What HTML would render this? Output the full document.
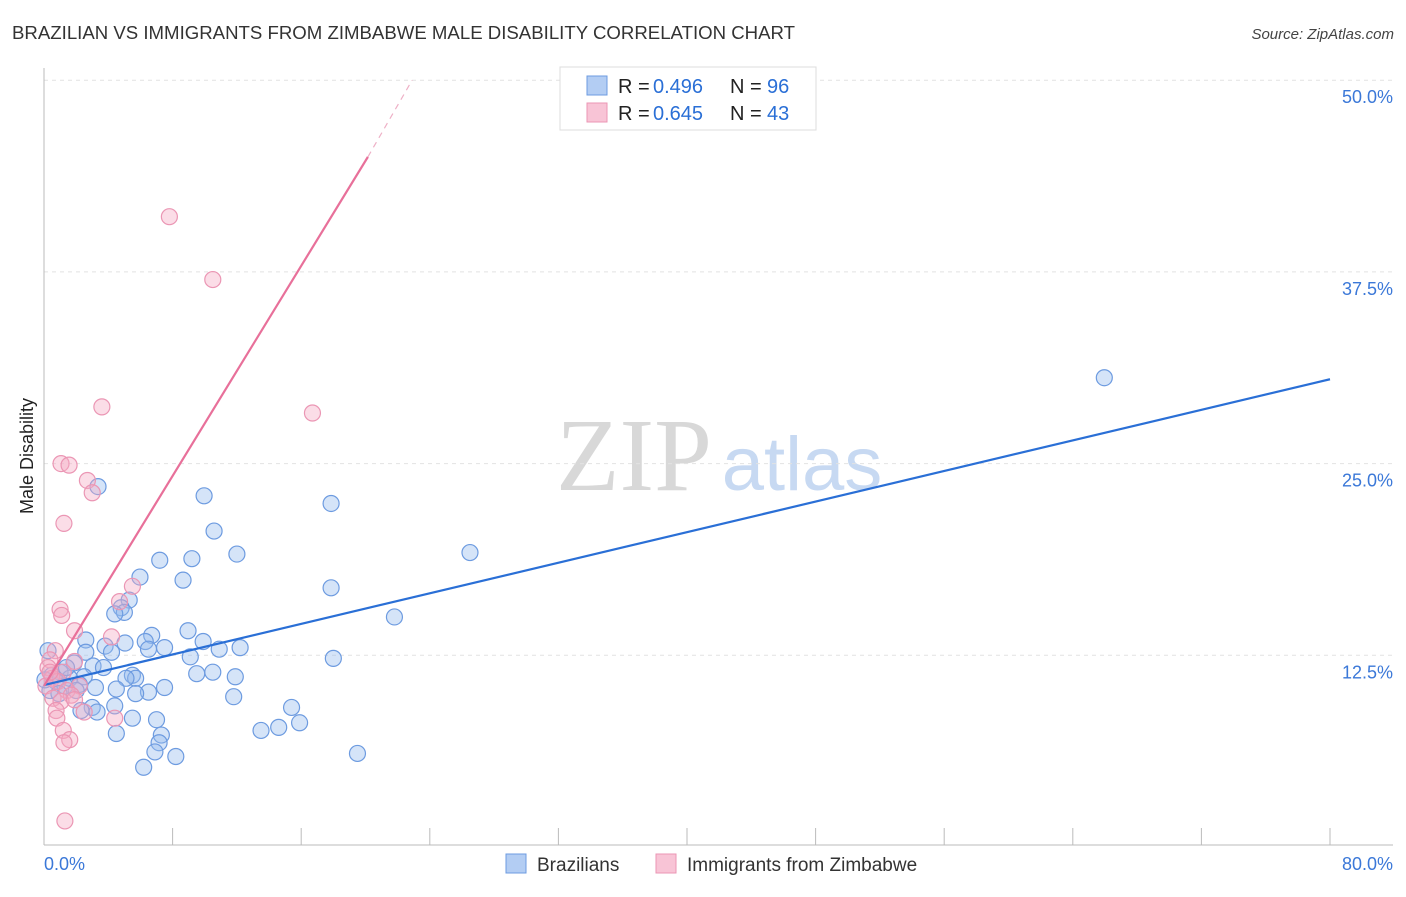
<!DOCTYPE html>
<html><head><meta charset="utf-8"><style>
body{margin:0;background:#fff;font-family:"Liberation Sans",sans-serif}
svg text{font-family:"Liberation Sans",sans-serif}
</style></head><body>
<svg id="c" width="1406" height="892">
<text x="12" y="39" font-size="18" fill="#333" textLength="783" lengthAdjust="spacingAndGlyphs">BRAZILIAN VS IMMIGRANTS FROM ZIMBABWE MALE DISABILITY CORRELATION CHART</text>
<text x="1394" y="39" font-size="15" fill="#444" text-anchor="end" font-style="italic">Source: ZipAtlas.com</text>
<text x="33" y="456" font-size="18" fill="#222" text-anchor="middle" transform="rotate(-90 33 456)">Male Disability</text>
<g>
<text x="634" y="490" font-size="104" fill="#d8d8d8" text-anchor="middle" style="font-family:'Liberation Serif',serif">ZIP</text>
<text x="802" y="490" font-size="76" fill="#c7d9f2" text-anchor="middle">atlas</text>
</g>
<g id="grid"></g><g id="axes"></g><g id="pts"></g><g id="lines"></g>
<g>
<rect x="560" y="67" width="256" height="63" fill="#fff" stroke="#ddd"/>
<rect x="587" y="76" width="20" height="19" fill="#b3cdf3" stroke="#6d9be0"/>
<text x="618" y="93" font-size="20" fill="#222">R =</text>
<text x="653" y="93" font-size="20" fill="#2a6fd6">0.496</text>
<text x="730" y="93" font-size="20" fill="#222">N =</text>
<text x="767" y="93" font-size="20" fill="#2a6fd6">96</text>
<rect x="587" y="103" width="20" height="19" fill="#f8c4d6" stroke="#eb96b4"/>
<text x="618" y="120" font-size="20" fill="#222">R =</text>
<text x="653" y="120" font-size="20" fill="#2a6fd6">0.645</text>
<text x="730" y="120" font-size="20" fill="#222">N =</text>
<text x="767" y="120" font-size="20" fill="#2a6fd6">43</text>
</g>
<g>
<rect x="506" y="854" width="20" height="19" fill="#b3cdf3" stroke="#6d9be0"/>
<text x="537" y="871" font-size="19" fill="#333">Brazilians</text>
<rect x="656" y="854" width="20" height="19" fill="#f8c4d6" stroke="#eb96b4"/>
<text x="687" y="871" font-size="19" fill="#333">Immigrants from Zimbabwe</text>
</g>
</svg>
<script>
const yTicks=[12.5,25,37.5,50];
const yTickLabels=["12.5%","25.0%","37.5%","50.0%"];
const xTickLabels=["0.0%","80.0%"];
const blueX=[65.96,3.36,9.96,17.86,10.58,26.5,12.0,7.2,9.2,5.97,8.65,17.86,5.3,4.8,5.0,4.4,21.8,8.96,6.7,2.6,6.3,9.9,5.04,3.8,6.5,7.5,10.9,12.2,4.2,2.6,0.25,9.1,18.0,1.87,3.05,3.7,10.5,9.5,1.0,5.5,5.7,5.1,11.9,2.5,1.6,0.75,2.2,1.3,3.2,4.5,7.5,6.5,5.7,0.37,0.93,11.8,15.4,3.0,4.4,2.3,3.3,5.5,7.0,15.9,13.5,14.6,4.5,7.3,7.16,6.9,8.2,19.5,6.2,0.5,1.4,2.0,0.06];
const blueY=[30.6,23.5,22.9,22.4,20.6,19.2,19.1,18.7,18.8,17.6,17.4,16.9,16.1,15.6,15.3,15.2,15.0,14.1,13.8,13.5,13.4,13.4,13.3,13.1,12.9,13.0,12.9,13.0,12.7,12.7,12.8,12.4,12.3,12.0,11.8,11.7,11.4,11.3,11.4,11.2,11.0,11.0,11.1,11.1,11.0,10.8,10.6,10.5,10.4,10.3,10.4,10.1,10.0,10.2,10.0,9.8,9.1,9.1,9.2,8.9,8.8,8.4,8.3,8.1,7.6,7.8,7.4,7.3,6.8,6.2,5.9,6.1,5.2,11.2,11.7,10.2,10.9];
const pinkX=[7.8,10.5,3.6,16.7,1.06,1.56,2.7,3.0,1.24,5.5,4.7,1.0,1.1,1.9,4.2,0.7,0.37,1.9,0.25,1.2,0.5,0.87,2.2,0.12,1.43,1.7,0.56,1.06,1.9,0.75,2.5,0.8,4.4,1.2,1.6,1.24,1.3,0.37];
const pinkY=[41.1,37.0,28.7,28.3,25.0,24.9,23.9,23.1,21.1,17.0,16.0,15.5,15.1,14.1,13.7,12.8,12.2,12.1,11.7,11.4,11.0,10.8,10.5,10.5,10.2,9.9,9.7,9.5,9.6,8.9,8.8,8.4,8.4,7.6,7.0,6.8,1.7,11.4];
const blueTrend=[[0,10.56],[80,30.5]];
const pinkTrend=[[0,10.5],[20.15,45]];
const pinkDash=[[20.15,45],[22.9,50]];
const NS="http://www.w3.org/2000/svg";
const sx=v=>44+v*1286/80, sy=v=>847-v*191.7/12.5;
function mk(t,a,p){const e=document.createElementNS(NS,t);for(const k in a)e.setAttribute(k,a[k]);document.getElementById(p).appendChild(e);return e;}
yTicks.forEach((t,i)=>{
 const l=mk('line',{x1:44,x2:1393,y1:sy(t),y2:sy(t),stroke:'#e2e2e2','stroke-dasharray':'4 4'},'grid');
 
 
 const tx=mk('text',{x:1393,y:sy(t)+23,'font-size':18,fill:'#3b78d8','text-anchor':'end'},'grid');
 tx.textContent=yTickLabels[i];
 
 
});
let ax=mk('line',{x1:44,x2:1393,y1:845,y2:845,stroke:'#bbb'},'axes');


ax=mk('line',{x1:44,x2:44,y1:68,y2:845,stroke:'#bbb'},'axes');


for(let i=0;i<=10;i++){const t=mk('line',{x1:sx(i*8),x2:sx(i*8),y1:828,y2:845,stroke:'#bbb'},'axes');
 
 }
[[0,'start',44],[1,'end',1393]].forEach(([i,a,x])=>{const t=mk('text',{x:x,y:870,'font-size':18,fill:'#3b78d8','text-anchor':a},'axes');t.textContent=xTickLabels[i];
 
 });
blueX.forEach((v,i)=>{const c=mk('circle',{cx:sx(v),cy:sy(blueY[i]),r:8,fill:'rgba(150,187,238,0.4)',stroke:'#6d9be0','stroke-width':1.2},'pts');
 
 });
pinkX.forEach((v,i)=>{const c=mk('circle',{cx:sx(v),cy:sy(pinkY[i]),r:8,fill:'rgba(245,170,196,0.4)',stroke:'#eb96b4','stroke-width':1.2},'pts');
 
 });
let L=mk('line',{x1:sx(blueTrend[0][0]),y1:sy(blueTrend[0][1]),x2:sx(blueTrend[1][0]),y2:sy(blueTrend[1][1]),stroke:'#2a6fd6','stroke-width':2.2},'lines');


L=mk('line',{x1:sx(pinkTrend[0][0]),y1:sy(pinkTrend[0][1]),x2:sx(pinkTrend[1][0]),y2:sy(pinkTrend[1][1]),stroke:'#e8709a','stroke-width':2.2},'lines');


L=mk('line',{x1:sx(pinkDash[0][0]),y1:sy(pinkDash[0][1]),x2:sx(pinkDash[1][0]),y2:sy(pinkDash[1][1]),stroke:'#eeb0c6','stroke-width':1.2,'stroke-dasharray':'6 5'},'lines');


</script>
</body></html>
